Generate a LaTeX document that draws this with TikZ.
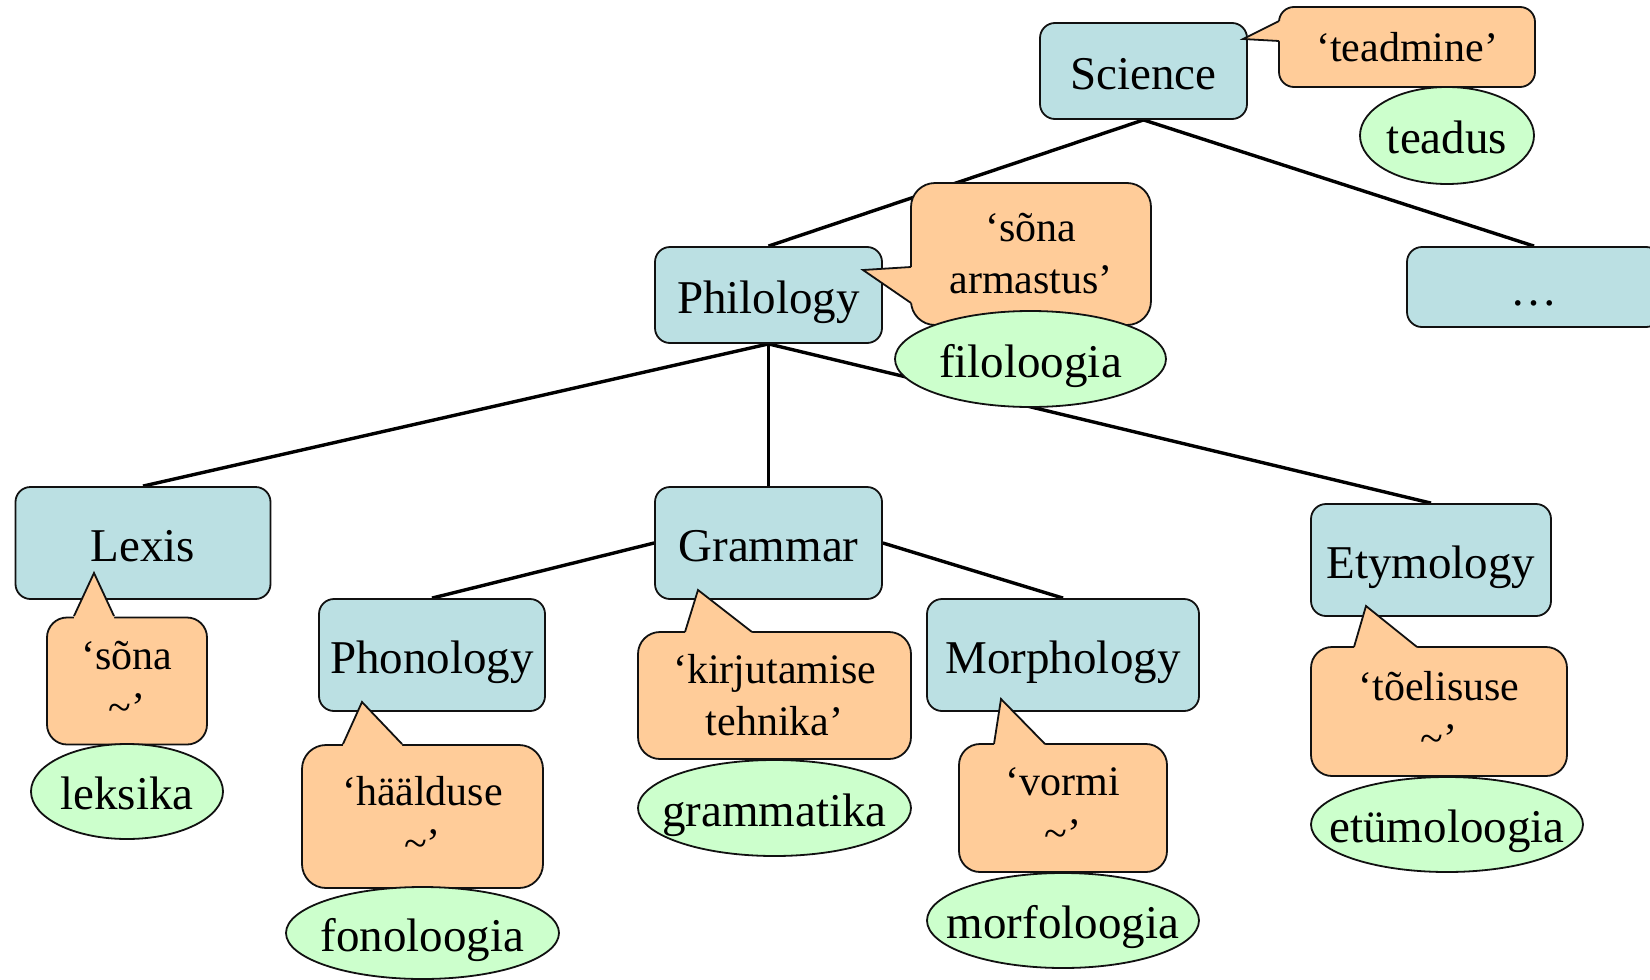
\documentclass[tikz,border=0pt]{standalone}
\usepackage{fontspec}
\setmainfont{Liberation Serif}
\usetikzlibrary{shapes.geometric,backgrounds}
\definecolor{boxblue}{HTML}{BBE0E3}
\definecolor{calloutorange}{HTML}{FFCC99}
\definecolor{ovalgreen}{HTML}{CCFFCC}
\definecolor{edgegray}{HTML}{111111}
\begin{document}
\begin{tikzpicture}[x=1pt,y=-1pt,
  topic/.style={draw=edgegray, line width=1.8pt, fill=boxblue, rounded corners=15pt,
    inner sep=0pt, text height=36pt, text depth=0pt, font=\fontsize{47pt}{52pt}\selectfont},
  gloss/.style={ellipse, draw=edgegray, line width=1.8pt, fill=ovalgreen, inner sep=0pt,
    text height=36pt, text depth=0pt, font=\fontsize{47pt}{52pt}\selectfont},
  calloutbody/.style={draw=edgegray, line width=1.8pt, fill=calloutorange, inner sep=0pt,
    align=center, font=\fontsize{42pt}{52pt}\selectfont},
  tailfill/.style={fill=calloutorange},
  tailedge/.style={draw=edgegray, line width=1.8pt, line join=miter},
  link/.style={draw=black, line width=3.4pt}
]
\useasboundingbox (0,0) rectangle (1650,980);
\clip (0,0) rectangle (1650,980);

% topic boxes
\node[topic, minimum width=207pt, minimum height=96pt] (science) at (1143.5,71) {Science};
\node[topic, minimum width=227pt, minimum height=96pt] (philology) at (768.5,295) {Philology};
\node[topic, minimum width=254pt, minimum height=80pt] (more) at (1534,287) {\dots};
\node[topic, minimum width=255pt, minimum height=112pt] (lexis) at (143,543) {Lexis};
\node[topic, minimum width=227pt, minimum height=112pt] (grammar) at (768.5,543) {Grammar};
\node[topic, minimum width=240pt, minimum height=112pt] (etym) at (1431,560) {Etymology};
\node[topic, minimum width=226pt, minimum height=112pt] (phon) at (432,655) {Phonology};
\node[topic, minimum width=272pt, minimum height=112pt] (morph) at (1063,655) {Morphology};

% connectors
\begin{pgfonlayer}{background}
\draw[link] (science.south) -- (philology.north);
\draw[link] (science.south) -- (more.north);
\draw[link] (philology.south) -- (lexis.north);
\draw[link] (philology.south) -- (grammar.north);
\draw[link] (philology.south) -- (etym.north);
\draw[link] (grammar.west) -- (phon.north);
\draw[link] (grammar.east) -- (morph.north);
\end{pgfonlayer}

% callouts
\node[calloutbody, rounded corners=15pt, minimum width=256pt, minimum height=80pt] (c-teadmine) at (1407,47) {‘teadmine’};
\fill[tailfill] (1279,21) -- (1243,39) -- (1279,41) -- (1283,41) -- (1283,21) -- cycle;
\draw[tailedge] (1279,21) -- (1243,39) -- (1279,41);

\node[calloutbody, rounded corners=24pt, minimum width=240pt, minimum height=142pt] (c-filol) at (1031,254) {‘sõna\\armastus’};
\fill[tailfill] (911,267) -- (863,270) -- (911,303) -- (915,303) -- (915,267) -- cycle;
\draw[tailedge] (911,267) -- (863,270) -- (911,303);

\node[calloutbody, rounded corners=20pt, minimum width=160pt, minimum height=127pt] (c-lexis) at (127,681) {‘sõna\\\textasciitilde’};
\fill[tailfill] (74,616) -- (94,573) -- (114,616) -- (114,620) -- (74,620) -- cycle;
\draw[tailedge] (74,616) -- (94,573) -- (114,616);

\node[calloutbody, rounded corners=24pt, minimum width=241pt, minimum height=143pt] (c-phon) at (422.5,816.5) {‘häälduse\\\textasciitilde’};
\fill[tailfill] (343,744) -- (362,702) -- (402,744) -- (402,748) -- (343,748) -- cycle;
\draw[tailedge] (343,744) -- (362,702) -- (402,744);

\node[calloutbody, rounded corners=22pt, minimum width=273pt, minimum height=127pt] (c-gram) at (774.5,695.5) {‘kirjutamise\\tehnika’};
\fill[tailfill] (685,632) -- (698,590) -- (752,632) -- (752,636) -- (685,636) -- cycle;
\draw[tailedge] (685,632) -- (698,590) -- (752,632);

\node[calloutbody, rounded corners=21pt, minimum width=208pt, minimum height=128pt] (c-morph) at (1063,808) {‘vormi\\\textasciitilde’};
\fill[tailfill] (994,744) -- (1001,699) -- (1045,744) -- (1045,748) -- (994,748) -- cycle;
\draw[tailedge] (994,744) -- (1001,699) -- (1045,744);

\node[calloutbody, rounded corners=21pt, minimum width=256pt, minimum height=129pt] (c-etym) at (1439,711.5) {‘tõelisuse\\\textasciitilde’};
\fill[tailfill] (1354,647) -- (1366,606) -- (1417,647) -- (1417,651) -- (1354,651) -- cycle;
\draw[tailedge] (1354,647) -- (1366,606) -- (1417,647);

% glosses
\node[gloss, minimum width=174pt, minimum height=97pt] (g-science) at (1447,135.5) {\makebox[0pt]{teadus}};
\node[gloss, minimum width=271pt, minimum height=96pt] (g-philology) at (1030.5,359) {\makebox[0pt]{filoloogia}};
\node[gloss, minimum width=192pt, minimum height=95pt] (g-lexis) at (127,791.5) {\makebox[0pt]{leksika}};
\node[gloss, minimum width=273pt, minimum height=92pt] (g-phon) at (422.5,933) {\makebox[0pt]{fonoloogia}};
\node[gloss, minimum width=273pt, minimum height=96pt] (g-gram) at (774.5,808) {\makebox[0pt]{grammatika}};
\node[gloss, minimum width=272pt, minimum height=95pt] (g-morph) at (1063,920.5) {\makebox[0pt]{morfoloogia}};
\node[gloss, minimum width=272pt, minimum height=95pt] (g-etym) at (1447,824.5) {\makebox[0pt]{etümoloogia}};
\end{tikzpicture}
\end{document}
